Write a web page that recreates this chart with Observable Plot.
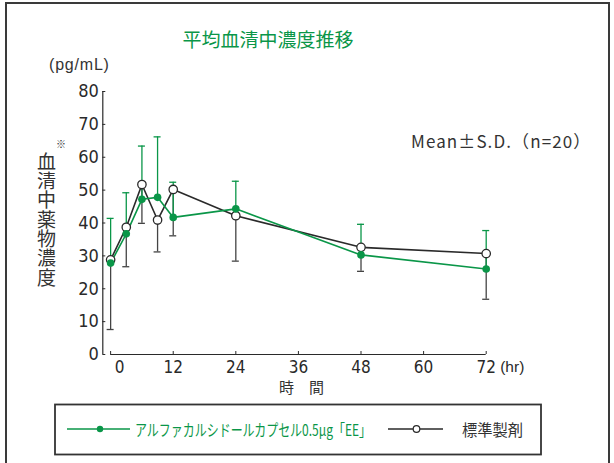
<!DOCTYPE html>
<html>
<head>
<meta charset="utf-8">
<script src="https://cdn.jsdelivr.net/npm/d3@7"></script>
<script src="https://cdn.jsdelivr.net/npm/@observablehq/plot@0.6"></script>
<style>
  html, body { margin: 0; padding: 0; background: #fff; }
  #wrap { position: relative; width: 614px; height: 463px; overflow: hidden; font-family: "Noto Sans CJK JP", "Liberation Sans", sans-serif; color: #333; }
  #frame { position: absolute; left: 5px; top: 2px; width: 605px; height: 480px; border: 2px solid #3a3a3a; box-sizing: border-box; }
  .abs { position: absolute; white-space: nowrap; line-height: 1; }
  #title { left: 118px; top: 29px; width: 300px; text-align: center; font-size: 19px; color: #0a9648; }
  #unit { left: 49px; top: 57px; font-family: "Liberation Sans", sans-serif; font-size: 16px; letter-spacing: 0.8px; }
  #ytitle { left: 36px; top: 152px; writing-mode: vertical-rl; font-size: 19px; line-height: 20px; letter-spacing: 0.3px; }
  #kome { left: 56px; top: 139px; font-size: 10px; }
  #stat { left: 411px; top: 132px; font-size: 17px; letter-spacing: 1.1px; }
  #xtitle { left: 279px; top: 379px; font-size: 15px; }
  #plot { position: absolute; left: 0; top: 0; }
  #legend { position: absolute; left: 0; top: 0; }
</style>
</head>
<body>
<div id="wrap">
  <div id="frame"></div>
  <div id="plot"></div>
  <div class="abs" id="title">平均血清中濃度推移</div>
  <div class="abs" id="unit">(pg/mL)</div>
  <div class="abs" id="ytitle">血清中薬物濃度</div>
  <div class="abs" id="kome">※</div>
  <div class="abs" id="stat">Mean±S.D.（n=20）</div>
  <div class="abs" id="xtitle">時　間</div>
  <svg id="legend" width="614" height="463"></svg>
</div>
<script>
// ---- data ----
const times = [0, 3, 6, 9, 12, 24, 48, 72];
const testMean = [27.8, 36.7, 47.2, 47.8, 41.7, 44.3, 30.3, 26.0];
const testSD   = [13.6, 12.5, 16.2, 18.4, 10.7, 8.4, 9.3, 11.7];
const refMean  = [28.8, 38.7, 51.7, 40.9, 50.2, 42.2, 32.6, 30.7];
const refSD    = [21.2, 12.0, 11.8, 9.7, 14.1, 13.8, 7.3, 13.9];
const xTicks = [0, 12, 24, 36, 48, 60, 72];
const yTicks = [0, 10, 20, 30, 40, 50, 60, 70, 80];
const testName = "アルファカルシドールカプセル0.5μg「EE」";
const refName = "標準製剤";

const GREEN = "#0a9648";
const DARK = "#2a2a2a";
const numFont = "'Liberation Sans Narrow', 'DejaVu Sans Condensed', 'Arial Narrow', 'Liberation Sans', sans-serif";

const test = times.map((t, i) => ({t, mean: testMean[i], hi: testMean[i] + testSD[i]}));
const ref = times.map((t, i) => ({t, mean: refMean[i], lo: refMean[i] - refSD[i]}));

const W = 614, H = 400;
const mL = 102.3, mR = 128.3, mT = 91, mB = 46;
const xMin = -1.5;
const pxPerHr = (W - mL - mR) / (72 - xMin);
const pxPerUnit = (H - mT - mB) / 80;
const capHalf = 3.5 / pxPerHr;
const yTickLen = 3 / pxPerHr;
const xTickLen = 3 / pxPerUnit;

const chart = Plot.plot({
  width: W, height: H,
  marginLeft: mL, marginRight: mR, marginTop: mT, marginBottom: mB,
  x: {domain: [xMin, 72], axis: null},
  y: {domain: [0, 80], axis: null},
  style: {background: "transparent"},
  marks: [
    // y axis
    Plot.ruleX([xMin], {y1: 0, y2: 80, stroke: DARK, strokeWidth: 1.2}),
    Plot.ruleY(yTicks, {y: d => d, x1: xMin, x2: xMin + yTickLen, stroke: DARK, strokeWidth: 1}),
    Plot.text(yTicks, {x: xMin, y: d => d, text: d => String(d), textAnchor: "end", dx: -4, fontSize: 18, fontFamily: numFont, fill: DARK}),
    // x axis
    Plot.ruleY([0], {x1: 0, x2: 72, stroke: DARK, strokeWidth: 1.2}),
    Plot.ruleX(xTicks, {x: d => d, y1: 0, y2: xTickLen, stroke: DARK, strokeWidth: 1}),
    Plot.text(xTicks.filter(d => d !== 0), {x: d => d, y: 0, text: d => String(d), dy: 13, fontSize: 17, fontFamily: numFont, fill: DARK}),
    Plot.text(xTicks.filter(d => d === 0), {x: d => d, y: 0, text: d => String(d), dy: 13, dx: 9, fontSize: 17, fontFamily: numFont, fill: DARK}),
    Plot.text([72], {x: d => d, y: 0, text: () => "(hr)", dy: 13, dx: 14, textAnchor: "start", fontSize: 15.5, fontFamily: "'Liberation Sans', sans-serif", fill: DARK}),
    // error bars: reference (lower), test (upper)
    Plot.ruleX(ref, {x: "t", y1: "mean", y2: "lo", stroke: "#444", strokeWidth: 1.3}),
    Plot.ruleY(ref, {y: "lo", x1: d => d.t - capHalf, x2: d => d.t + capHalf, stroke: "#444", strokeWidth: 1.3}),
    Plot.ruleX(test, {x: "t", y1: "mean", y2: "hi", stroke: GREEN, strokeWidth: 1.3}),
    Plot.ruleY(test, {y: "hi", x1: d => d.t - capHalf, x2: d => d.t + capHalf, stroke: GREEN, strokeWidth: 1.3}),
    // lines
    Plot.line(ref, {x: "t", y: "mean", stroke: DARK, strokeWidth: 1.6}),
    Plot.line(test, {x: "t", y: "mean", stroke: GREEN, strokeWidth: 1.6}),
    Plot.dot(ref, {x: "t", y: "mean", r: 4.2, fill: "white", stroke: DARK, strokeWidth: 1.3}),
    Plot.dot(test, {x: "t", y: "mean", r: 3.8, fill: GREEN, stroke: null})
  ]
});
document.getElementById("plot").appendChild(chart);

// ---- legend ----
const NS = "http://www.w3.org/2000/svg";
const lg = document.getElementById("legend");
function el(tag, attrs, text) {
  const e = document.createElementNS(NS, tag);
  for (const k in attrs) e.setAttribute(k, attrs[k]);
  if (text) e.textContent = text;
  lg.appendChild(e);
  return e;
}
const ly = 429;
el("rect", {x: 55, y: 404.5, width: 486, height: 50, fill: "white", stroke: "#333", "stroke-width": 1.8});
el("line", {x1: 67, x2: 130, y1: ly, y2: ly, stroke: GREEN, "stroke-width": 1.6});
el("circle", {cx: 100, cy: ly, r: 3.2, fill: GREEN});
el("text", {x: 135, y: ly, "dominant-baseline": "central", "font-size": 16, fill: GREEN, textLength: 236, lengthAdjust: "spacingAndGlyphs", "font-family": "'Noto Sans CJK JP', sans-serif"}, testName);
el("line", {x1: 388, x2: 443, y1: ly, y2: ly, stroke: DARK, "stroke-width": 1.4});
el("circle", {cx: 416.5, cy: ly, r: 3.3, fill: "white", stroke: DARK, "stroke-width": 1.2});
el("text", {x: 462, y: ly, "dominant-baseline": "central", "font-size": 16, fill: "#333", textLength: 61, lengthAdjust: "spacingAndGlyphs", "font-family": "'Noto Sans CJK JP', sans-serif"}, refName);
</script>
</body>
</html>
